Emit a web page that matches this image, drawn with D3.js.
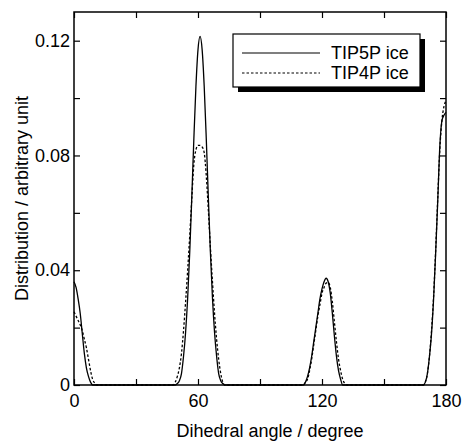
<!DOCTYPE html>
<html>
<head>
<meta charset="utf-8">
<script src="https://cdn.jsdelivr.net/npm/d3@7"></script>
<style>
  body { margin: 0; background: #fff; }
  text { font-family: "Liberation Sans", Arial, sans-serif; fill: #000; }
</style>
</head>
<body>
<div id="chart"></div>
<script>
const FRAME_WIDTH = 463;
const FRAME_HEIGHT = 443;
const MARGINS = {left: 74, right: 17, top: 12, bottom: 58};
const VIS_WIDTH = FRAME_WIDTH - MARGINS.left - MARGINS.right;
const VIS_HEIGHT = FRAME_HEIGHT - MARGINS.top - MARGINS.bottom;

// data (degree, distribution)
const tip5pAngle = [0,1,2,3,4,5,6,7,8,9,
  49,50,51,52,53,54,55,56,57,58,59,60,61,62,63,64,65,66,67,68,69,70,71,72,73,
  111,112,113,114,115,116,117,118,119,120,121,122,123,124,125,126,127,128,129,130,
  169,170,171,172,173,174,175,176,177,178,179,180];
const tip5pValue = [0.036,0.034,0.030,0.025,0.018,0.011,0.006,0.003,0.001,0,
  0,0.0005,0.0015,0.004,0.010,0.0184,0.0303,0.0463,0.0655,0.0859,0.1041,0.1169,0.1215,0.1169,0.1041,0.0859,0.0655,0.0463,0.0303,0.0184,0.010,0.004,0.0015,0.0005,0,
  0,0.001,0.003,0.006,0.010,0.015,0.020,0.025,0.030,0.0335,0.036,0.0372,0.036,0.032,0.025,0.017,0.010,0.005,0.002,0,
  0,0.001,0.004,0.010,0.018,0.030,0.046,0.064,0.083,0.092,0.094,0.095];

const tip4pAngle = [0,1,2,3,4,5,6,7,8,9,10,11,
  48,49,50,51,52,53,54,55,56,57,58,59,60,61,62,63,64,65,66,67,68,69,70,71,72,73,
  111,112,113,114,115,116,117,118,119,120,121,122,123,124,125,126,127,128,129,130,131,132,
  169,170,171,172,173,174,175,176,177,178,179,180];
const tip4pValue = [0.0255,0.024,0.0225,0.021,0.019,0.016,0.013,0.009,0.005,0.002,0.0007,0,
  0,0.001,0.003,0.006,0.011,0.019,0.029,0.040,0.052,0.065,0.077,0.082,0.0835,0.0835,0.083,0.081,0.073,0.061,0.048,0.036,0.025,0.016,0.009,0.004,0.001,0,
  0,0.001,0.002,0.005,0.009,0.014,0.019,0.024,0.028,0.032,0.034,0.0355,0.0357,0.034,0.029,0.022,0.015,0.009,0.005,0.002,0.0005,0,
  0,0.001,0.004,0.010,0.019,0.031,0.047,0.065,0.082,0.092,0.097,0.099];

const xTicks = [0, 30, 60, 90, 120, 150, 180];
const xLabels = [0, 60, 120, 180];
const yTicks = [0, 0.02, 0.04, 0.06, 0.08, 0.10, 0.12];
const yLabels = [0, 0.04, 0.08, 0.12];

const seriesNames = ["TIP5P ice", "TIP4P ice"];

const svg = d3.select("#chart")
  .append("svg")
    .attr("width", FRAME_WIDTH)
    .attr("height", FRAME_HEIGHT);

const X_SCALE = d3.scaleLinear().domain([0, 180]).range([0, VIS_WIDTH]);
const Y_SCALE = d3.scaleLinear().domain([0, 0.13]).range([VIS_HEIGHT, 0]);

const g = svg.append("g")
  .attr("transform", "translate(" + MARGINS.left + "," + MARGINS.top + ")");

// curves
const line = d3.line()
  .x(d => X_SCALE(d[0]))
  .y(d => Y_SCALE(d[1]))
  .curve(d3.curveMonotoneX);

g.append("path")
  .datum(tip4pAngle.map((a, i) => [a, tip4pValue[i]]))
  .attr("d", line)
  .attr("fill", "none")
  .attr("stroke", "#000")
  .attr("stroke-width", 1.3)
  .attr("stroke-dasharray", "2.5,2");

g.append("path")
  .datum(tip5pAngle.map((a, i) => [a, tip5pValue[i]]))
  .attr("d", line)
  .attr("fill", "none")
  .attr("stroke", "#000")
  .attr("stroke-width", 1.3);

// axes, ticks pointing inward on all four sides
const fmtY = d => d === 0 ? "0" : d3.format(".2f")(d);

g.append("g")
  .attr("transform", "translate(0," + VIS_HEIGHT + ")")
  .call(d3.axisBottom(X_SCALE).tickValues(xTicks).tickSizeInner(-6).tickSizeOuter(0)
    .tickFormat(d => xLabels.includes(d) ? d : ""))
  .call(a => a.select(".domain").remove())
  .call(a => a.selectAll("text").attr("dy", "1.05em").attr("font-size", "18px"));

g.append("g")
  .call(d3.axisTop(X_SCALE).tickValues(xTicks).tickSizeInner(-6).tickSizeOuter(0).tickFormat(""))
  .call(a => a.select(".domain").remove());

g.append("g")
  .call(d3.axisLeft(Y_SCALE).tickValues(yTicks).tickSizeInner(-6).tickSizeOuter(0)
    .tickFormat(d => yLabels.some(v => Math.abs(v - d) < 1e-9) ? fmtY(d) : ""))
  .call(a => a.select(".domain").remove())
  .call(a => a.selectAll("text").attr("x", -4).attr("font-size", "18px"));

g.append("g")
  .attr("transform", "translate(" + VIS_WIDTH + ",0)")
  .call(d3.axisRight(Y_SCALE).tickValues(yTicks).tickSizeInner(-6).tickSizeOuter(0).tickFormat(""))
  .call(a => a.select(".domain").remove());

g.selectAll(".tick line").attr("stroke", "#000").attr("stroke-width", 1.2);
g.selectAll(".tick text").attr("fill", "#000").style("font-family", "'Liberation Sans', Arial, sans-serif");

// frame
g.append("rect")
  .attr("width", VIS_WIDTH)
  .attr("height", VIS_HEIGHT)
  .attr("fill", "none")
  .attr("stroke", "#000")
  .attr("stroke-width", 1.5);

// axis titles
svg.append("text")
  .attr("x", 270)
  .attr("y", 437)
  .attr("text-anchor", "middle")
  .attr("font-size", "18px")
  .text("Dihedral angle / degree");

svg.append("text")
  .attr("transform", "translate(28," + (MARGINS.top + VIS_HEIGHT / 2) + ") rotate(-90)")
  .attr("text-anchor", "middle")
  .attr("font-size", "18px")
  .text("Distribution / arbitrary unit");

// legend with drop shadow
const LEG = {x: 233, y: 34, w: 187, h: 53};
svg.append("rect")
  .attr("x", LEG.x + 5).attr("y", LEG.y + 5)
  .attr("width", LEG.w).attr("height", LEG.h)
  .attr("fill", "#000");
svg.append("rect")
  .attr("x", LEG.x).attr("y", LEG.y)
  .attr("width", LEG.w).attr("height", LEG.h)
  .attr("fill", "#fff")
  .attr("stroke", "#000")
  .attr("stroke-width", 1.2);

seriesNames.forEach((name, i) => {
  const y = LEG.y + 19 + i * 20;
  svg.append("line")
    .attr("x1", 242).attr("x2", 320)
    .attr("y1", y).attr("y2", y)
    .attr("stroke", "#000")
    .attr("stroke-width", 1.2)
    .attr("stroke-dasharray", i === 1 ? "2.5,2" : null);
  svg.append("text")
    .attr("x", 331)
    .attr("y", y + 6)
    .attr("font-size", "18px")
    .text(name);
});
</script>
</body>
</html>
